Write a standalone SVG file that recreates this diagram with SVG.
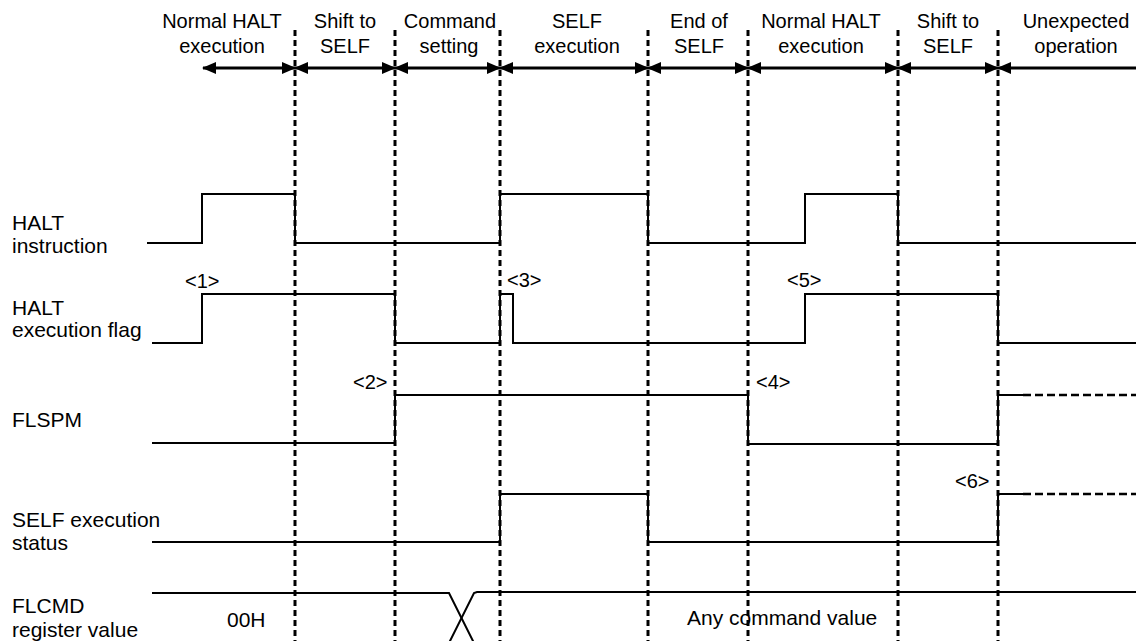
<svg xmlns="http://www.w3.org/2000/svg" width="1136" height="641" viewBox="0 0 1136 641">
<style>
text{font-family:"Liberation Sans",Arial,sans-serif;font-size:20px;fill:#000}
.lbl{font-size:21px}
.hdr{text-anchor:middle}
.sig{fill:none;stroke:#000;stroke-width:2}
.div{fill:none;stroke:#000;stroke-width:3;stroke-dasharray:6 4}
.ext{fill:none;stroke:#000;stroke-width:2.5;stroke-dasharray:8 4}
.arr{fill:none;stroke:#000;stroke-width:3}
</style>
<defs>
<marker id="ah" markerUnits="userSpaceOnUse" markerWidth="14" markerHeight="12" refX="13" refY="6" orient="auto-start-reverse">
<path d="M0,0 L14,6 L0,12 Z" fill="#000"/>
</marker>
</defs>
<rect width="1136" height="641" fill="#fff"/>
<g id="headers">
<text class="hdr" x="222" y="28">Normal HALT</text><text class="hdr" x="222" y="53">execution</text>
<text class="hdr" x="345" y="28">Shift to</text><text class="hdr" x="345" y="53">SELF</text>
<text class="hdr" x="450" y="28">Command</text><text class="hdr" x="449" y="53">setting</text>
<text class="hdr" x="577" y="28">SELF</text><text class="hdr" x="577" y="53">execution</text>
<text class="hdr" x="699" y="28">End of</text><text class="hdr" x="699" y="53">SELF</text>
<text class="hdr" x="821" y="28">Normal HALT</text><text class="hdr" x="821" y="53">execution</text>
<text class="hdr" x="948" y="28">Shift to</text><text class="hdr" x="948" y="53">SELF</text>
<text class="hdr" x="1076" y="28">Unexpected</text><text class="hdr" x="1076" y="53">operation</text>
</g>
<g id="phase-arrows">
<line class="arr" x1="203" y1="68" x2="295" y2="68" marker-start="url(#ah)" marker-end="url(#ah)"/>
<line class="arr" x1="295" y1="68" x2="395" y2="68" marker-start="url(#ah)" marker-end="url(#ah)"/>
<line class="arr" x1="395" y1="68" x2="500" y2="68" marker-start="url(#ah)" marker-end="url(#ah)"/>
<line class="arr" x1="500" y1="68" x2="648" y2="68" marker-start="url(#ah)" marker-end="url(#ah)"/>
<line class="arr" x1="648" y1="68" x2="748" y2="68" marker-start="url(#ah)" marker-end="url(#ah)"/>
<line class="arr" x1="748" y1="68" x2="898" y2="68" marker-start="url(#ah)" marker-end="url(#ah)"/>
<line class="arr" x1="898" y1="68" x2="998" y2="68" marker-start="url(#ah)" marker-end="url(#ah)"/>
<line class="arr" x1="998" y1="68" x2="1136" y2="68" marker-start="url(#ah)"/>
</g>
<g id="dividers">
<line class="div" x1="295" y1="30" x2="295" y2="641"/>
<line class="div" x1="395" y1="30" x2="395" y2="641"/>
<line class="div" x1="500" y1="30" x2="500" y2="641"/>
<line class="div" x1="648" y1="30" x2="648" y2="641"/>
<line class="div" x1="748" y1="30" x2="748" y2="641"/>
<line class="div" x1="898" y1="30" x2="898" y2="641"/>
<line class="div" x1="998" y1="30" x2="998" y2="641"/>
</g>
<g id="halt-instruction">
<text class="lbl" x="12" y="230">HALT</text><text class="lbl" x="12" y="253">instruction</text>
<path class="sig" d="M147,243 H202 V194 H295 V243 H500 V194 H648 V243 H805 V194 H898 V243 H1136"/>
</g>
<g id="halt-flag">
<text class="lbl" x="12" y="315">HALT</text><text class="lbl" x="12" y="337">execution flag</text>
<path class="sig" d="M152,343 H202 V294 H395 V343 H500 V294 H513 V343 H805 V294 H998 V343 H1136"/>
<text x="185" y="288">&lt;1&gt;</text>
<text x="507" y="287">&lt;3&gt;</text>
<text x="787" y="287">&lt;5&gt;</text>
</g>
<g id="flspm">
<text class="lbl" x="12" y="427">FLSPM</text>
<path class="sig" d="M152,443 H395 V395 H748 V444 H998 V395 H1023"/>
<line class="ext" x1="1023" y1="395" x2="1136" y2="395"/>
<text x="353" y="389">&lt;2&gt;</text>
<text x="756" y="389">&lt;4&gt;</text>
</g>
<g id="self-status">
<text class="lbl" x="12" y="527">SELF execution</text><text class="lbl" x="12" y="550">status</text>
<path class="sig" d="M152,542 H500 V494 H648 V542 H998 V494 H1023"/>
<line class="ext" x1="1023" y1="494" x2="1136" y2="494"/>
<text x="955" y="488">&lt;6&gt;</text>
</g>
<g id="flcmd">
<text class="lbl" x="12" y="613">FLCMD</text><text class="lbl" x="12" y="637">register value</text>
<path class="sig" d="M152,593 H449 L474,643"/>
<path class="sig" d="M449,643 L474,593 L477,592 H1136"/>
<text class="lbl" x="227" y="627">00H</text>
<text class="lbl" x="687" y="625">Any command value</text>
</g>
</svg>
